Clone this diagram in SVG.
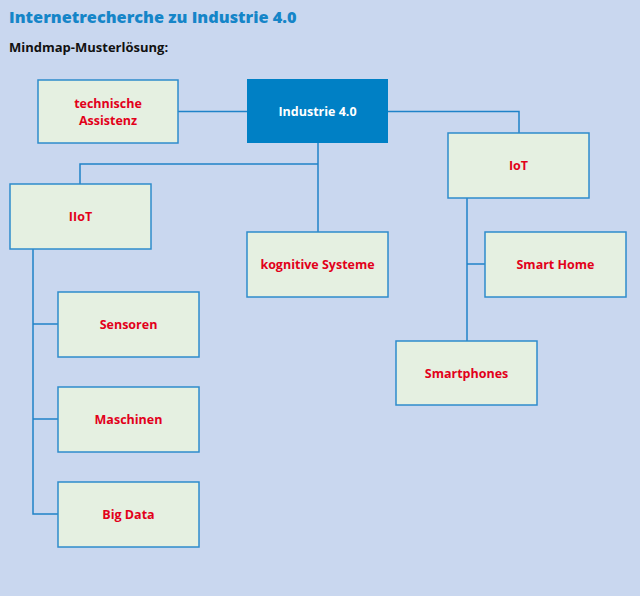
<svg xmlns="http://www.w3.org/2000/svg" width="640" height="596" viewBox="0 0 640 596">
<style>
.bg{fill:#c9d7ef}
.box{fill:#e5f0e1;stroke:#2e8ccc;stroke-width:1.5}
.main{fill:#0080c5}
.lbl{font-family:"Open Sans","Liberation Sans",sans-serif;font-weight:bold;font-size:12.5px;fill:#e2001a;text-anchor:middle;dominant-baseline:central}
.mlbl{font-family:"Open Sans","Liberation Sans",sans-serif;font-weight:bold;font-size:12.5px;fill:#ffffff;text-anchor:middle;dominant-baseline:central}
.con{fill:none;stroke:#1f82c8;stroke-width:1.5}
</style>
<rect class="bg" x="0" y="0" width="640" height="596"/>
<text x="9" y="23" font-family="Open Sans, Liberation Sans, sans-serif" font-weight="800" font-size="16.3" fill="#1585c8">Internetrecherche zu Industrie 4.0</text>
<text x="9" y="52" font-family="Open Sans, Liberation Sans, sans-serif" font-weight="bold" font-size="13" fill="#111">Mindmap-Musterlösung:</text>
<g id="connectors">
<path class="con" d="M178 111.5 H247"/>
<path class="con" d="M388 111.5 H519 V133"/>
<path class="con" d="M318 143 V232"/>
<path class="con" d="M318 164 H80 V184"/>
<path class="con" d="M33 249 V514 H58"/>
<path class="con" d="M33 324 H58"/>
<path class="con" d="M33 419 H58"/>
<path class="con" d="M467 198 V341"/>
<path class="con" d="M467 264 H485"/>
</g>
<g id="industrie"><rect class="main" x="247" y="79" width="141" height="64"/><text class="mlbl" x="317.5" y="111">Industrie 4.0</text></g>
<g id="technische-assistenz"><rect class="box" x="38" y="80" width="140" height="63"/><text class="lbl" x="108" y="103">technische</text><text class="lbl" x="108" y="120">Assistenz</text></g>
<g id="iot"><rect class="box" x="448" y="133" width="141" height="65"/><text class="lbl" x="518.5" y="165.5">IoT</text></g>
<g id="iiot"><rect class="box" x="10" y="184" width="141" height="65"/><text class="lbl" x="80.5" y="216.5">IIoT</text></g>
<g id="kognitive-systeme"><rect class="box" x="247" y="232" width="141" height="65"/><text class="lbl" x="317.5" y="264.5">kognitive Systeme</text></g>
<g id="smart-home"><rect class="box" x="485" y="232" width="141" height="65"/><text class="lbl" x="555.5" y="264.5">Smart Home</text></g>
<g id="smartphones"><rect class="box" x="396" y="341" width="141" height="64"/><text class="lbl" x="466.5" y="373">Smartphones</text></g>
<g id="sensoren"><rect class="box" x="58" y="292" width="141" height="65"/><text class="lbl" x="128.5" y="324.5">Sensoren</text></g>
<g id="maschinen"><rect class="box" x="58" y="387" width="141" height="65"/><text class="lbl" x="128.5" y="419.5">Maschinen</text></g>
<g id="big-data"><rect class="box" x="58" y="482" width="141" height="65"/><text class="lbl" x="128.5" y="514.5">Big Data</text></g>
</svg>
